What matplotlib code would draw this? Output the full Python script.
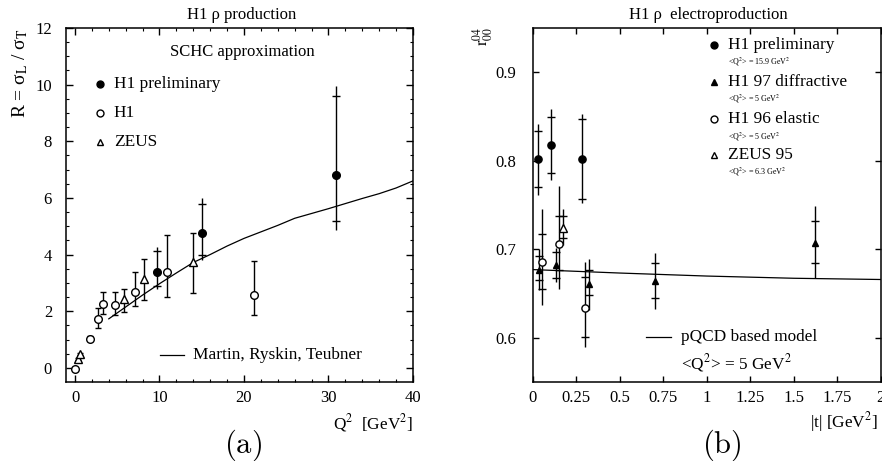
import numpy as np
import matplotlib
matplotlib.use("Agg")
import matplotlib.pyplot as plt

plt.rcParams['font.family'] = ['Liberation Serif', 'DejaVu Serif']
plt.rcParams['mathtext.fontset'] = 'stix'
plt.rcParams['font.size'] = 12

# ---- panel (a): R = sigma_L / sigma_T vs Q^2 ----
# H1 preliminary (filled circles), stat and total errors
q2_prel = [9.67, 15.07, 30.9]
r_prel = [3.38, 4.75, 6.81]
prel_stat_up = [0.75, 1.05, 2.79]
prel_stat_dn = [0.49, 0.75, 1.63]
prel_tot_up = [0.87, 1.25, 3.15]
prel_tot_dn = [0.61, 0.95, 1.93]

# H1 (open circles)
q2_h1 = [0.0, 1.78, 2.67, 3.35, 4.75, 7.15, 10.87, 21.18]
r_h1 = [-0.03, 1.03, 1.73, 2.25, 2.23, 2.67, 3.38, 2.58]
h1_up = [0.05, 0.1, 0.38, 0.42, 0.45, 0.7, 1.3, 1.2]
h1_dn = [0.05, 0.1, 0.33, 0.34, 0.36, 0.5, 0.87, 0.7]

# ZEUS (open triangles)
q2_zeus = [0.3, 0.55, 5.75, 8.15, 14.0]
r_zeus = [0.3, 0.5, 2.42, 3.14, 3.74]
zeus_up = [0.03, 0.03, 0.38, 0.7, 1.02]
zeus_dn = [0.03, 0.03, 0.46, 0.76, 1.09]

# Martin, Ryskin, Teubner curve
q2_mrt = [4, 6, 8, 10, 12, 14, 16, 18, 20, 22, 24, 26, 28, 30, 32, 34, 36, 38, 40]
r_mrt = [1.73, 2.15, 2.57, 2.97, 3.35, 3.72, 4.0, 4.3, 4.57, 4.8, 5.03, 5.28,
         5.45, 5.62, 5.8, 5.98, 6.15, 6.35, 6.6]

# ---- panel (b): r^04_00 vs |t| ----
t_prel = [0.029, 0.107, 0.282]
r04_prel = [0.802, 0.818, 0.802]
t_prel_stat_up = [0.032, 0.031, 0.045]
t_prel_stat_dn = [0.032, 0.032, 0.045]
t_prel_tot_up = [0.040, 0.040, 0.051]
t_prel_tot_dn = [0.041, 0.040, 0.050]

t_h197 = [0.036, 0.132, 0.322, 0.703, 1.62]
r04_h197 = [0.677, 0.682, 0.661, 0.664, 0.707]
h197_stat_up = [0.015, 0.015, 0.015, 0.020, 0.025]
h197_stat_dn = [0.012, 0.014, 0.013, 0.019, 0.022]
h197_tot_up = [0.023, 0.019, 0.028, 0.032, 0.042]
h197_tot_dn = [0.023, 0.019, 0.030, 0.031, 0.040]

t_h196 = [0.055, 0.149, 0.30]
r04_h196 = [0.686, 0.706, 0.634]
h196_stat_up = [0.031, 0.031, 0.035]
h196_stat_dn = [0.031, 0.030, 0.033]
h196_tot_up = [0.059, 0.066, 0.052]
h196_tot_dn = [0.049, 0.051, 0.045]

t_zeus = [0.172]
r04_zeus = [0.724]
zeus95_stat_up = [0.013]
zeus95_stat_dn = [0.011]
zeus95_tot_up = [0.021]
zeus95_tot_dn = [0.019]

t_model = [0.0, 0.5, 1.0, 1.5, 2.0]
r04_model = [0.677, 0.6731, 0.6697, 0.6672, 0.6658]


def stat_total(ax, x, y, s_up, s_dn, t_up, t_dn, ms_tick=6):
    x = np.asarray(x)
    y = np.asarray(y)
    ax.errorbar(x, y, yerr=[t_dn, t_up], fmt='none', ecolor='k',
                elinewidth=1.0, capsize=0, zorder=2)
    ax.plot(x, y + np.asarray(s_up), '_', color='k', ms=ms_tick, mew=1.0, zorder=2)
    ax.plot(x, y - np.asarray(s_dn), '_', color='k', ms=ms_tick, mew=1.0, zorder=2)


def style_axes(ax):
    for s in ax.spines.values():
        s.set_linewidth(1.1)
    ax.tick_params(which='both', direction='in', top=True, right=True)


fig = plt.figure(figsize=(8.82, 4.61), dpi=100)
ax1 = fig.add_axes([0.0748, 0.1714, 0.3934, 0.7679])
ax2 = fig.add_axes([0.604, 0.1714, 0.3946, 0.7679])

# ---------- panel (a) ----------
stat_total(ax1, q2_prel, r_prel, prel_stat_up, prel_stat_dn, prel_tot_up, prel_tot_dn)
ax1.plot(q2_prel, r_prel, 'o', color='k', ms=5.5, zorder=3)
ax1.errorbar(q2_h1, r_h1, yerr=[h1_dn, h1_up], fmt='o', ms=5.5, mfc='white', mec='k',
             mew=1.0, ecolor='k', elinewidth=1.0, capsize=2.5, capthick=1.0, zorder=3)
ax1.errorbar(q2_zeus, r_zeus, yerr=[zeus_dn, zeus_up], fmt='^', ms=5.5, mfc='white', mec='k',
             mew=1.0, ecolor='k', elinewidth=1.0, capsize=2.5, capthick=1.0, zorder=3)
ax1.plot(q2_mrt, r_mrt, '-', color='k', lw=0.9, zorder=1)

ax1.set_xlim(-1.07, 40)
ax1.set_ylim(-0.5, 12)
ax1.set_xticks([0, 10, 20, 30, 40])
ax1.set_xticks(np.arange(0, 41, 2), minor=True)
ax1.set_yticks([0, 2, 4, 6, 8, 10, 12])
ax1.set_yticks(np.arange(0, 12.01, 0.5), minor=True)
style_axes(ax1)
ax1.tick_params(which='major', length=5, width=1.0)
ax1.tick_params(which='minor', length=2.5, width=0.8)
ax1.tick_params(axis='y', pad=10)
ax1.tick_params(axis='x', pad=6)

ax1.text(0.509, 0.933, 'SCHC approximation', transform=ax1.transAxes,
         ha='center', va='center', fontsize=12)
leg_y = [0.841, 0.759, 0.679]
ax1.plot([0.098], [leg_y[0]], 'o', color='k', ms=5, transform=ax1.transAxes)
ax1.plot([0.098], [leg_y[1]], 'o', mfc='white', mec='k', mew=1.0, ms=5, transform=ax1.transAxes)
ax1.plot([0.098], [leg_y[2]], '^', mfc='white', mec='k', mew=1.0, ms=5, transform=ax1.transAxes)
for yy, lab in zip(leg_y, ['H1 preliminary', 'H1', 'ZEUS']):
    ax1.text(0.138, yy, lab, transform=ax1.transAxes, ha='left', va='center', fontsize=12.4)
ax1.plot([0.271, 0.341], [0.076, 0.076], '-', color='k', lw=0.9, transform=ax1.transAxes)
ax1.text(0.367, 0.076, 'Martin, Ryskin, Teubner', transform=ax1.transAxes,
         ha='left', va='center', fontsize=12.4)

# ---------- panel (b) ----------
stat_total(ax2, t_prel, r04_prel, t_prel_stat_up, t_prel_stat_dn, t_prel_tot_up, t_prel_tot_dn)
stat_total(ax2, t_h197, r04_h197, h197_stat_up, h197_stat_dn, h197_tot_up, h197_tot_dn)
stat_total(ax2, t_h196, r04_h196, h196_stat_up, h196_stat_dn, h196_tot_up, h196_tot_dn)
stat_total(ax2, t_zeus, r04_zeus, zeus95_stat_up, zeus95_stat_dn, zeus95_tot_up, zeus95_tot_dn)
ax2.plot(t_model, r04_model, '-', color='k', lw=0.9, zorder=1)
ax2.plot(t_prel, r04_prel, 'o', color='k', ms=5.2, zorder=3)
ax2.plot(t_h197, r04_h197, '^', color='k', ms=4.8, zorder=3)
ax2.plot(t_h196, r04_h196, 'o', mfc='white', mec='k', mew=1.0, ms=5.2, zorder=3)
ax2.plot(t_zeus, r04_zeus, '^', mfc='white', mec='k', mew=1.0, ms=5.2, zorder=3)

ax2.set_xlim(0, 2)
ax2.set_ylim(0.55, 0.95)
t_ticks = [0, 0.25, 0.5, 0.75, 1, 1.25, 1.5, 1.75, 2]
ax2.set_xticks(t_ticks)
ax2.set_xticklabels(['0', '0.25', '0.5', '0.75', '1', '1.25', '1.5', '1.75', '2'])
ax2.set_yticks([0.6, 0.7, 0.8, 0.9])
ax2.set_yticklabels(['0.6', '0.7', '0.8', '0.9'])
style_axes(ax2)
ax2.tick_params(which='major', length=4.5, width=1.0)
ax2.tick_params(axis='y', pad=12)
ax2.tick_params(axis='x', pad=6)

leg2_y = [0.951, 0.847, 0.744, 0.640]
sub2_y = [0.904, 0.801, 0.694, 0.593]
ax2.plot([0.521], [leg2_y[0]], 'o', color='k', ms=5, transform=ax2.transAxes)
ax2.plot([0.521], [leg2_y[1]], '^', color='k', ms=5, transform=ax2.transAxes)
ax2.plot([0.521], [leg2_y[2]], 'o', mfc='white', mec='k', mew=1.0, ms=5, transform=ax2.transAxes)
ax2.plot([0.521], [leg2_y[3]], '^', mfc='white', mec='k', mew=1.0, ms=5, transform=ax2.transAxes)
labels2 = ['H1 preliminary', 'H1 97 diffractive', 'H1 96 elastic', 'ZEUS 95']
subs2 = [r'<Q$^2$> = 15.9 GeV$^2$', r'<Q$^2$> = 5 GeV$^2$',
         r'<Q$^2$> = 5 GeV$^2$', r'<Q$^2$> = 6.3 GeV$^2$']
for yy, lab in zip(leg2_y, labels2):
    ax2.text(0.562, yy, lab, transform=ax2.transAxes, ha='left', va='center', fontsize=12.4)
for yy, lab in zip(sub2_y, subs2):
    ax2.text(0.562, yy, lab, transform=ax2.transAxes, ha='left', va='center', fontsize=5.8)
ax2.plot([0.326, 0.398], [0.1278, 0.1278], '-', color='k', lw=0.9, transform=ax2.transAxes)
ax2.text(0.427, 0.1278, 'pQCD based model', transform=ax2.transAxes,
         ha='left', va='center', fontsize=12.4)
ax2.text(0.427, 0.055, r'<Q$^2$> = 5 GeV$^2$', transform=ax2.transAxes,
         ha='left', va='center', fontsize=12.4)

# titles, axis labels, panel letters
fig.text(241.7 / 882, 1 - 15 / 461, 'H1 ρ production', ha='center', va='center', fontsize=12)
fig.text(708 / 882, 1 - 15 / 461, 'H1 ρ  electroproduction', ha='center', va='center', fontsize=12)
fig.text(20 / 882, 1 - 28 / 461, r'R = σ$_{\mathrm{L}}$ / σ$_{\mathrm{T}}$',
         rotation=90, ha='center', va='top', fontsize=14)
fig.text(482.7 / 882, 1 - 27 / 461, r'$\mathrm{r}^{04}_{00}$',
         rotation=90, ha='center', va='top', fontsize=12)
fig.text(413 / 882, 1 - 423 / 461, r'Q$^2$  [GeV$^2$]', ha='right', va='center', fontsize=12.4)
fig.text(878 / 882, 1 - 422 / 461, r'|t| [GeV$^2$]', ha='right', va='center', fontsize=12.4)
fig.text(243 / 882, 1 - 445 / 461, r'$\mathrm{(a)}$', ha='center', va='center',
         fontsize=22, math_fontfamily='cm')
fig.text(721.7 / 882, 1 - 445 / 461, r'$\mathrm{(b)}$', ha='center', va='center',
         fontsize=22, math_fontfamily='cm')

fig.savefig('out.png', dpi=100)
